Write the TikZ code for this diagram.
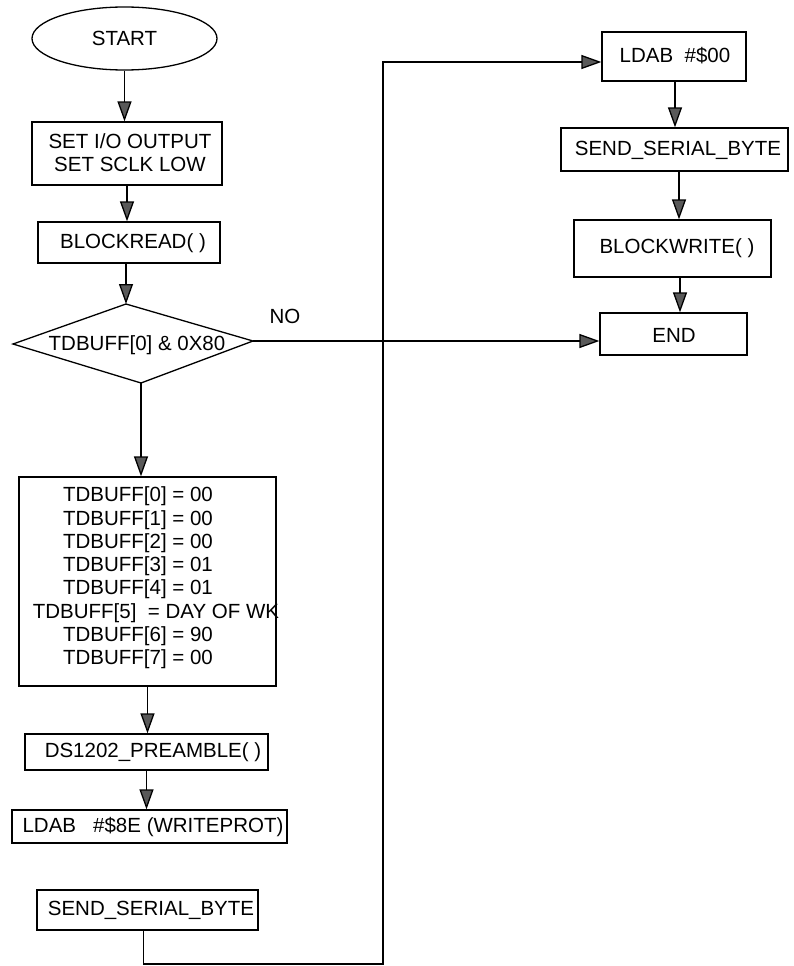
\documentclass[tikz,border=0pt]{standalone}
\usepackage{fontspec}
\setmainfont{Liberation Sans}
\usetikzlibrary{shapes.geometric,arrows.meta,calc}
\begin{document}
\begin{tikzpicture}[x=1pt,y=-1pt,
  line width=1.3pt,
  every node/.style={font=\fontsize{20.5}{23.3}\selectfont, inner sep=0pt},
  box/.style={draw, rectangle},
  lbl/.style={align=center},
  flow/.style={-{Triangle[length=20pt,width=14pt,fill=black!65]}}]
\useasboundingbox (0,0) rectangle (794,966);

% left column
\node[draw, ellipse, minimum width=185pt, minimum height=63pt] (start) at (124.5,38.5) {START};

\node[box, minimum width=190pt, minimum height=63pt] (setio) at (127,153.5) {};
\node[lbl] (setiot) at (130,153) {SET I/O OUTPUT\\SET SCLK LOW};

\node[box, minimum width=182pt, minimum height=41pt] (bread) at (129,242.5) {};
\node[lbl] (breadt) at (133,243) {BLOCKREAD( )};

% decision
\coordinate (dtop) at (126,304);
\coordinate (dright) at (253,341);
\coordinate (dbot) at (141,383);
\coordinate (dleft) at (13,344);
\draw (dtop) -- (dright) -- (dbot) -- (dleft) -- cycle;
\node[lbl] (dtext) at (137,345) {TDBUFF[0] \& 0X80};
\node (no) at (285,316) {NO};

\node[box, minimum width=257pt, minimum height=209pt] (tdbuff) at (147.5,581.5) {};
\node[lbl] (tdbufft) at (138,578) {TDBUFF[0] = 00\\TDBUFF[1] = 00\\TDBUFF[2] = 00\\TDBUFF[3] = 01\\TDBUFF[4] = 01\\\hspace*{36pt}TDBUFF[5]\ \ = DAY OF WK\\TDBUFF[6] = 90\\TDBUFF[7] = 00};

\node[box, minimum width=243pt, minimum height=36pt] (ds) at (146.5,752) {};
\node[lbl] (dst) at (153,752) {DS1202\_PREAMBLE( )};

\node[box, minimum width=275pt, minimum height=33pt] (ldab) at (149.5,826.5) {};
\node[lbl] (ldabt) at (153,827) {LDAB\ \ \ \#\$8E (WRITEPROT)};

\node[box, minimum width=221pt, minimum height=40pt] (send) at (147.5,910) {};
\node[lbl] (sendt) at (151,910) {SEND\_SERIAL\_BYTE};

% right column
\node[box, minimum width=144pt, minimum height=49pt] (ldabz) at (674,56.5) {};
\node[lbl] (ldabzt) at (675,56) {LDAB\ \ \#\$00};

\node[box, minimum width=227pt, minimum height=43pt] (send2) at (674.5,149.5) {};
\node[lbl] (send2t) at (678,150) {SEND\_SERIAL\_BYTE};

\node[box, minimum width=197pt, minimum height=57pt] (bw) at (672.5,248.5) {};
\node[lbl] (bwt) at (677,248) {BLOCKWRITE( )};

\node[box, minimum width=147pt, minimum height=42pt] (endb) at (673.5,334) {};
\node[lbl] (endt) at (674,335) {END};

% connectors
\draw[flow] (start.south) -- (start.south |- setio.north);
\draw[flow] (setio.south) -- (setio.south |- bread.north);
\draw[flow] (dtop |- bread.south) -- (dtop);
\draw[flow] (dbot) -- (dbot |- tdbuff.north);
\draw[flow] (tdbuff.south) -- (tdbuff.south |- ds.north);
\draw[flow] (ds.south) -- (ds.south |- ldab.north);

\coordinate (sendout) at ([xshift=-4pt]send.south);
\coordinate (loopbot) at (383,964);
\coordinate (looptop) at (383,62);
\draw[flow] (sendout) |- (loopbot) -- (looptop) -- (looptop -| ldabz.west);

\draw[flow] (dright) -- (dright -| endb.west);

\coordinate (ldabzout) at ([xshift=1pt]ldabz.south);
\draw[flow] (ldabzout) -- (ldabzout |- send2.north);
\coordinate (send2out) at ([xshift=4.5pt]send2.south);
\draw[flow] (send2out) -- (send2out |- bw.north);
\coordinate (bwout) at ([xshift=7.5pt]bw.south);
\draw[flow] (bwout) -- (bwout |- endb.north);
\end{tikzpicture}
\end{document}
